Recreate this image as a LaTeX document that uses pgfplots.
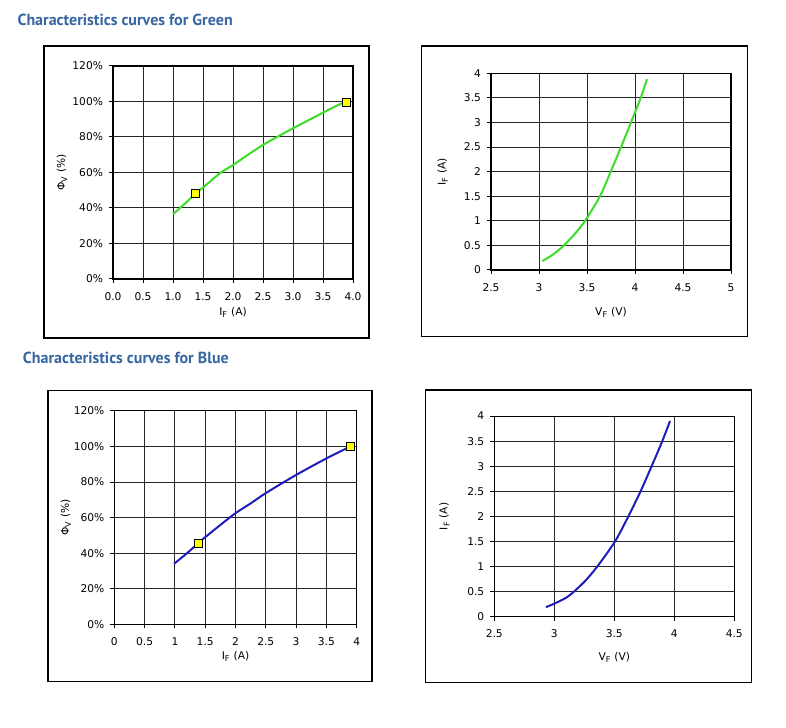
\documentclass[border=0pt]{standalone}
\usepackage{pgfplots}
\pgfplotsset{compat=1.18}
\usepackage{fontspec}
\setmainfont{DejaVu Sans}
\newfontfamily\titlefont{PT Sans}
\definecolor{ttl}{RGB}{56,102,162}
\definecolor{lgreen}{RGB}{60,220,40}
\definecolor{lblue}{RGB}{30,30,190}
\definecolor{mk}{RGB}{255,255,0}
\pgfplotsset{
  chart/.style={
    scale only axis,
    axis line style={black, line width=0.8pt},
    grid=major,
    major grid style={black!85, line width=0.75pt},
    tick align=outside,
    xtick pos=lower, ytick pos=left,
    major tick length=3pt,
    tick style={black, line width=0.75pt},
    ticklabel style={font=\fontsize{8}{9.6}\selectfont},
    xticklabel style={yshift=-3.5pt},
    yticklabel style={xshift=-1pt},
    label style={font=\fontsize{8}{9.6}\selectfont},
    ylabel style={anchor=center},
    xlabel style={anchor=center},
  },
}
\begin{document}
\begin{tikzpicture}[x=0.75pt,y=0.75pt]
\fill[white] (0,0) rectangle (786,728);
% frames
\draw[black, line width=1pt] (44,390) rectangle (369,682);
\draw[black, line width=1pt] (421.7,391.3) rectangle (747.3,682);
\draw[black, line width=1pt] (48,46.3) rectangle (372,337.3);
\draw[black, line width=1pt] (425.7,45.7) rectangle (751.7,338);
% titles
\node[anchor=base west, inner sep=0pt, text=ttl, font=\titlefont\bfseries\fontsize{12}{14}\selectfont] at (17.3,702) {Characteristics curves for Green};
\node[anchor=base west, inner sep=0pt, text=ttl, font=\titlefont\bfseries\fontsize{12}{14}\selectfont] at (22.7,364) {Characteristics curves for Blue};

% Top-left: Green flux
\begin{axis}[chart, at={(84.75pt,336.75pt)}, anchor=south west, width=180pt, height=159.75pt,
  xmin=0, xmax=4, ymin=0, ymax=120,
  xtick={0,0.5,...,4}, xticklabels={0.0,0.5,1.0,1.5,2.0,2.5,3.0,3.5,4.0},
  ytick={0,20,...,120}, yticklabels={0\%,20\%,40\%,60\%,80\%,100\%,120\%},
  xlabel={I\textsubscript{F} (A)}, ylabel={Φ\textsubscript{V} (\%)},
  xlabel style={at={(axis description cs:0.5,-0.158)}},
  ylabel style={at={(axis description cs:-0.2125,0.5)}},
]
\addplot[lgreen, line width=1.5pt, smooth] coordinates {
(1.0,36.5)(1.2,42.5)(1.37,48)(1.5,51.5)(1.78,59.5)(2.0,64.2)(2.25,70)(2.5,75.5)(2.75,80.3)(3.0,84.9)(3.25,89.3)(3.5,93.7)(3.75,98)(3.89,99.7)};
\addplot[only marks, mark=square*, mark size=3pt, mark options={fill=mk, draw=black, line width=0.6pt}] coordinates {(1.37,48)(3.89,99.7)};
\end{axis}

% Top-right: Green IV
\begin{axis}[chart, at={(368.25pt,343.5pt)}, anchor=south west, width=180pt, height=147.5pt,
  xmin=2.5, xmax=5, ymin=0, ymax=4,
  xtick={2.5,3,...,5}, xticklabels={2.5,3,3.5,4,4.5,5},
  ytick={0,0.5,...,4}, yticklabels={0,0.5,1,1.5,2,2.5,3,3.5,4},
  xlabel={V\textsubscript{F} (V)}, ylabel={I\textsubscript{F} (A)},
  xlabel style={at={(axis description cs:0.5,-0.217)}},
  ylabel style={at={(axis description cs:-0.201,0.5)}},
]
\addplot[lgreen, line width=1.5pt, smooth] coordinates {
(3.035,0.18)(3.15,0.32)(3.26,0.5)(3.38,0.75)(3.48,1.0)(3.635,1.5)(3.747,2.0)(3.854,2.5)(3.958,3.0)(4.059,3.5)(4.125,3.88)};
\end{axis}

% Bottom-left: Blue flux
\begin{axis}[chart, at={(85.725pt,77.775pt)}, anchor=south west, width=181.8pt, height=160pt,
  xmin=0, xmax=4, ymin=0, ymax=120,
  xtick={0,0.5,...,4}, xticklabels={0,0.5,1,1.5,2,2.5,3,3.5,4},
  ytick={0,20,...,120}, yticklabels={0\%,20\%,40\%,60\%,80\%,100\%,120\%},
  xlabel={I\textsubscript{F} (A)}, ylabel={Φ\textsubscript{V} (\%)},
  xlabel style={at={(axis description cs:0.5,-0.152)}},
  ylabel style={at={(axis description cs:-0.2,0.5)}},
]
\addplot[lblue, line width=1.5pt, smooth] coordinates {
(0.985,34)(1.2,40)(1.38,45.5)(1.5,49)(1.96,61.5)(2.25,68)(2.51,74)(3.0,84)(3.5,93.3)(3.89,99.9)};
\addplot[only marks, mark=square*, mark size=3pt, mark options={fill=mk, draw=black, line width=0.6pt}] coordinates {(1.38,45.5)(3.89,99.9)};
\end{axis}

% Bottom-right: Blue IV
\begin{axis}[chart, at={(370.725pt,83.475pt)}, anchor=south west, width=180pt, height=150.5pt,
  xmin=2.5, xmax=4.5, ymin=0, ymax=4,
  xtick={2.5,3,...,4.5}, xticklabels={2.5,3,3.5,4,4.5},
  ytick={0,0.5,...,4}, yticklabels={0,0.5,1,1.5,2,2.5,3,3.5,4},
  xlabel={V\textsubscript{F} (V)}, ylabel={I\textsubscript{F} (A)},
  xlabel style={at={(axis description cs:0.5,-0.204)}},
  ylabel style={at={(axis description cs:-0.208,0.5)}},
]
\addplot[lblue, line width=1.5pt, smooth] coordinates {
(2.93,0.19)(3.0,0.26)(3.1,0.38)(3.164,0.5)(3.26,0.72)(3.358,1.0)(3.506,1.5)(3.617,2.0)(3.719,2.5)(3.811,3.0)(3.9,3.5)(3.964,3.9)};
\end{axis}
\end{tikzpicture}
\end{document}
